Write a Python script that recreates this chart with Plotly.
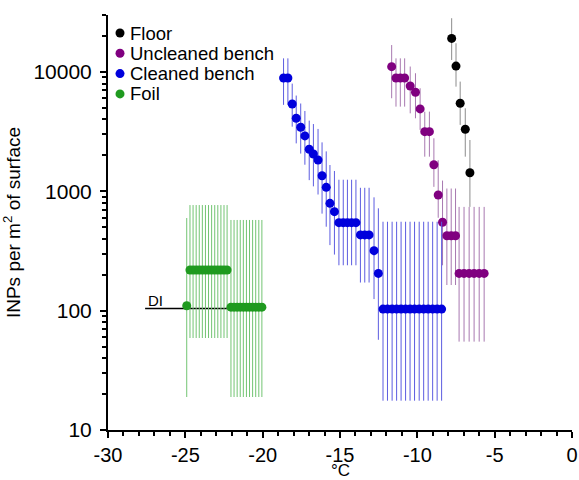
import math
import plotly.graph_objects as go

# ---- Data: INP concentration per m^2 of surface vs freezing temperature ----
floor_t = [-7.78, -7.50, -7.23, -6.90, -6.60]
floor_v = [19100, 11200, 5470, 3310, 1430]
floor_hi = [28200, 17400, 8300, 4960, 2690]
floor_lo = [12600, 7530, 3600, 1950, 740]

unclean_t = [-11.66, -11.38, -11.10, -10.82, -10.46, -10.12, -9.82, -9.52, -9.22,
             -8.93, -8.65, -8.37, -8.09, -7.81, -7.53, -7.30, -6.98, -6.65, -6.33,
             -6.00, -5.68]
unclean_v = [11080, 8900, 8900, 8900, 7630, 6760, 4900, 3160, 3160, 1670, 931, 550,
             424, 424, 424, 205, 205, 205, 205, 205, 205]
unclean_hi = [16800, 13000, 13000, 13000, 11100, 9750, 7300, 4650, 4650, 2780, 1820,
              1230, 1055, 1055, 1055, 740, 740, 740, 740, 740, 740]
unclean_lo = [6020, 5120, 5120, 5120, 4500, 4090, 3270, 1950, 1950, 1090, 600, 240,
              164, 164, 164, 55, 55, 55, 55, 55, 55]

clean_t = [-18.65, -18.37, -18.09, -17.83, -17.54, -17.27, -16.99, -16.72, -16.42,
           -16.16, -15.89, -15.65, -15.36, -15.07, -14.79, -14.52, -14.25, -13.97,
           -13.68, -13.40, -13.12, -12.80, -12.52, -12.22, -11.93, -11.63, -11.34,
           -11.05, -10.76, -10.47, -10.18, -9.88, -9.59, -9.30, -9.01, -8.72, -8.43]
clean_v = [8900, 8900, 5390, 4090, 3440, 2910, 2250, 2055, 1830, 1350, 1080, 793, 675,
           546, 546, 546, 546, 546, 431, 431, 431, 318, 205,
           103, 103, 103, 103, 103, 103, 103, 103, 103, 103, 103, 103, 103, 103]
clean_hi = [13000, 13000, 7980, 6340, 5440, 4710, 3910, 3660, 3330, 2570, 2160, 1660,
            1480, 1250, 1250, 1250, 1250, 1250, 1070, 1070, 1070, 890, 720,
            556, 556, 556, 556, 556, 556, 556, 556, 556, 556, 556, 556, 556, 556]
clean_lo = [5300, 5300, 3480, 2520, 2070, 1670, 1240, 1100, 940, 650, 505, 354, 295,
            240, 240, 240, 240, 240, 172, 172, 172, 125, 57,
            17.6, 17.6, 17.6, 17.6, 17.6, 17.6, 17.6, 17.6, 17.6, 17.6, 17.6, 17.6,
            17.6, 17.6]

foil_t = [-24.91, -24.70, -24.50, -24.30, -24.10, -23.90, -23.70, -23.50, -23.30,
          -23.10, -22.90, -22.70, -22.50, -22.30, -22.05, -21.85, -21.65, -21.45,
          -21.25, -21.05, -20.85, -20.65, -20.45, -20.25, -20.05]
foil_v = [110, 219, 219, 219, 219, 219, 219, 219, 219, 219, 219, 219, 219, 219,
          107, 107, 107, 107, 107, 107, 107, 107, 107, 107, 107]
foil_hi = [597, 767, 767, 767, 767, 767, 767, 767, 767, 767, 767, 767, 767, 767,
           575, 575, 575, 575, 575, 575, 575, 575, 575, 575, 575]
foil_lo = [18.9, 59, 59, 59, 59, 59, 59, 59, 59, 59, 59, 59, 59, 59,
           18.9, 18.9, 18.9, 18.9, 18.9, 18.9, 18.9, 18.9, 18.9, 18.9, 18.9]

# detection limit of the DI water blank
di_t = [-27.6, -19.85]
di_level = 104

x_ticks = [-30, -25, -20, -15, -10, -5, 0]
x_tick_text = ["-30", "-25", "-20", "-15", "-10", "-5", "0"]
y_ticks = [10, 100, 1000, 10000]
y_tick_text = ["10", "100", "1000", "10000"]

FONT = "Liberation Sans, Arial, sans-serif"

series = [
    ("Floor", floor_t, floor_v, floor_hi, floor_lo, "#000000", "#8c8c8c"),
    ("Uncleaned bench", unclean_t, unclean_v, unclean_hi, unclean_lo, "#800080", "#a878b0"),
    ("Cleaned bench", clean_t, clean_v, clean_hi, clean_lo, "#0000dc", "#5c5ce0"),
    ("Foil", foil_t, foil_v, foil_hi, foil_lo, "#1f9a1f", "#72c472"),
]

# plot-area geometry in pixels (used for the compact legend block)
W, H = 579, 480
ML, MR, MT, MB = 108, 7, 15, 50
PW, PH = W - ML - MR, H - MT - MB

fig = go.Figure()

# DI blank line sits beneath the markers
fig.add_trace(go.Scatter(
    x=di_t, y=[di_level] * len(di_t), mode="lines",
    line=dict(color="black", width=1.5), showlegend=False, hoverinfo="skip",
))

for name, t, v, hi, lo, col, ecol in series:
    fig.add_trace(go.Scatter(
        x=t, y=v, mode="markers", name=name, showlegend=False,
        marker=dict(color=col, size=9, line=dict(width=0)),
        error_y=dict(
            type="data", symmetric=False,
            array=[h - y for h, y in zip(hi, v)],
            arrayminus=[y - l for l, y in zip(lo, v)],
            color=ecol, thickness=1, width=0,
        ),
    ))

# compact legend: a dot and a label per series, 20 px per row
leg_x = (120 - ML) / PW
for i, (name, *_rest, col, _ecol) in enumerate(series):
    row_y = (H - MB - (33 + 20.3 * i)) / PH
    fig.add_shape(
        type="circle", xref="paper", yref="paper",
        xsizemode="pixel", ysizemode="pixel",
        xanchor=leg_x, yanchor=row_y,
        x0=-4.5, x1=4.5, y0=-4.5, y1=4.5,
        fillcolor=col, line=dict(width=0),
    )
    fig.add_annotation(
        xref="paper", yref="paper", x=leg_x, y=row_y, xshift=8,
        text=name, showarrow=False, xanchor="left", yanchor="middle",
        font=dict(family=FONT, size=18.5, color="black"),
    )

fig.add_annotation(
    x=di_t[0], y=math.log10(di_level), text="DI", showarrow=False,
    xanchor="left", yanchor="bottom", yshift=-2, xshift=1,
    font=dict(family=FONT, size=15, color="black"),
)

# x-axis title, sitting just under the tick labels
fig.add_annotation(
    xref="paper", yref="paper", x=0.5, y=(H - MB - 470) / PH,
    text="°C", showarrow=False, xanchor="center", yanchor="middle",
    borderpad=0, font=dict(family=FONT, size=17, color="black"),
)

minor_y = [m * 10 ** e for e in range(1, 5) for m in range(2, 10) if m * 10 ** e <= 30000]

fig.update_layout(
    width=W, height=H,
    margin=dict(l=ML, r=MR, t=MT, b=MB, autoexpand=False),
    paper_bgcolor="white", plot_bgcolor="white",
    font=dict(family=FONT, color="black"),
    showlegend=False,
    xaxis=dict(
        range=[-30, 0], tickmode="array", tickvals=x_ticks, ticktext=x_tick_text,
        showline=True, linecolor="black", linewidth=2,
        ticks="outside", ticklen=6, tickwidth=2, tickcolor="black",
        minor=dict(dtick=1, tick0=-30, ticks="outside", ticklen=4, tickwidth=1.5,
                   tickcolor="black"),
        showgrid=False, zeroline=False, automargin=False,
        tickfont=dict(family=FONT, size=20, color="black"),
    ),
    yaxis=dict(
        type="log", range=[1, math.log10(30000)],
        tickmode="array", tickvals=y_ticks, ticktext=y_tick_text,
        showline=True, linecolor="black", linewidth=2,
        ticks="outside", ticklen=6, tickwidth=2, tickcolor="black",
        minor=dict(tickmode="array", tickvals=minor_y, ticks="outside",
                   ticklen=4, tickwidth=1.5, tickcolor="black"),
        showgrid=False, zeroline=False, automargin=False,
        ticklabelstandoff=4,
        tickfont=dict(family=FONT, size=21, color="black"),
        title=dict(text="INPs per m<sup>2</sup> of surface",
                   font=dict(family=FONT, size=19, color="black"), standoff=8),
    ),
)

fig.write_html("out.html")
